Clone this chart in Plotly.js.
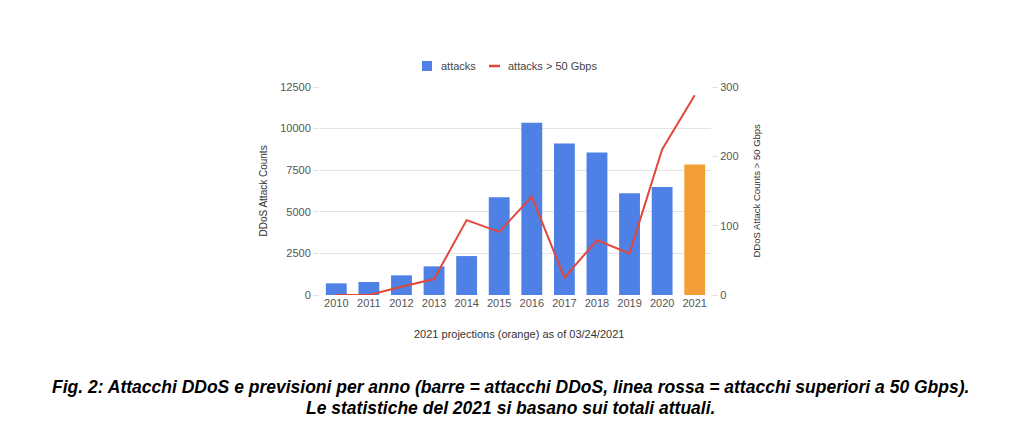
<!DOCTYPE html>
<html>
<head>
<meta charset="utf-8">
<script src="https://cdn.plot.ly/plotly-3.0.1.min.js"></script>
<style>html,body{margin:0;padding:0;background:#fff;}#chart{width:1024px;height:431px;}</style>
</head>
<body>
<div id="chart"></div>
<script>
var years = ['2010','2011','2012','2013','2014','2015','2016','2017','2018','2019','2020','2021'];
var attacks = [700, 780, 1180, 1720, 2340, 5870, 10350, 9110, 8570, 6110, 6490, 7850];
var over50 = [0, 0, 12, 23, 108, 91, 142, 25, 79, 60, 210, 288];
var projectedYears = ['2021'];
var leftTicks = [0, 2500, 5000, 7500, 10000, 12500];
var leftTickText = ['0', '2500', '5000', '7500', '10000', '12500'];
var rightTicks = [0, 100, 200, 300];
var seriesNames = ['attacks', 'attacks > 50 Gbps'];

var BLUE = '#4f80e6', ORANGE = '#f29f38', RED = '#e2473b';
var barColors = years.map(function(y){ return projectedYears.indexOf(y) >= 0 ? ORANGE : BLUE; });

var traces = [
  {type:'bar', x:years, y:attacks, name:seriesNames[0], marker:{color:barColors}, yaxis:'y'},
  {type:'scatter', mode:'lines', x:years, y:over50, name:seriesNames[1], line:{color:RED, width:2}, yaxis:'y2'}
];

// pixel helpers for paper coordinates (plot area 320..711 x, 87..295 y)
var PL = 320, PW = 391, PT = 87, PH = 208;
function px(x){ return (x - PL) / PW; }
function py(y){ return (PT + PH - y) / PH; }

var FF = 'Liberation Sans, Arial, sans-serif';
var tickFont = {family:FF, size:11, color:'#555'};
var layout = {
  width:1024, height:431,
  margin:{l:320, r:313, t:87, b:136},
  paper_bgcolor:'#fff', plot_bgcolor:'#fff',
  bargap:0.36,
  showlegend:false,
  xaxis:{type:'category', tickfont:tickFont, showgrid:false, zeroline:false, showline:false, ticks:''},
  yaxis:{range:[0,12500], tickvals:leftTicks, ticktext:leftTickText, tickfont:tickFont, gridcolor:'#e3e3e3', zeroline:false, showline:false, ticks:'outside', ticklen:6, tickcolor:'#e3e3e3'},
  yaxis2:{range:[0,300], tickvals:rightTicks, overlaying:'y', side:'right', tickfont:tickFont, showgrid:false, zeroline:false, showline:false, ticks:'outside', ticklen:6, tickcolor:'#e3e3e3'},
  shapes:[
    {type:'rect', xref:'paper', yref:'paper', x0:px(422), x1:px(432), y0:py(71), y1:py(61), fillcolor:BLUE, line:{width:0}},
    {type:'line', xref:'paper', yref:'paper', x0:px(489), x1:px(500), y0:py(66), y1:py(66), line:{color:RED, width:2.5}}
  ],
  annotations:[
    {text:seriesNames[0], xref:'paper', yref:'paper', x:px(439), y:py(66), xanchor:'left', yanchor:'middle', showarrow:false, font:{family:FF, size:11, color:'#444'}},
    {text:seriesNames[1].replace('>', '&gt;'), xref:'paper', yref:'paper', x:px(506), y:py(66), xanchor:'left', yanchor:'middle', showarrow:false, font:{family:FF, size:11, color:'#444'}},
    {text:'DDoS Attack Counts', xref:'paper', yref:'paper', x:px(255), y:0.5, textangle:-90, showarrow:false, font:{family:FF, size:10, color:'#333'}},
    {text:'DDoS Attack Counts &gt; 50 Gbps', xref:'paper', yref:'paper', x:px(763), y:0.5, textangle:-90, showarrow:false, font:{family:FF, size:9.5, color:'#333'}},
    {text:'2021 projections (orange) as of 03/24/2021', xref:'paper', yref:'paper', x:px(519), y:py(334), yanchor:'middle', showarrow:false, font:{family:FF, size:11, color:'#333'}},
    {text:'<b><i>Fig. 2: Attacchi DDoS e previsioni per anno (barre = attacchi DDoS, linea rossa = attacchi superiori a 50 Gbps).</i></b>', xref:'paper', yref:'paper', x:px(510), y:py(387), yanchor:'middle', showarrow:false, font:{family:FF, size:17.5, color:'#000'}},
    {text:'<b><i>Le statistiche del 2021 si basano sui totali attuali.</i></b>', xref:'paper', yref:'paper', x:px(510), y:py(408), yanchor:'middle', showarrow:false, font:{family:FF, size:17.5, color:'#000'}}
  ]
};
Plotly.newPlot('chart', traces, layout, {displayModeBar:false, staticPlot:true});
</script>
</body>
</html>
